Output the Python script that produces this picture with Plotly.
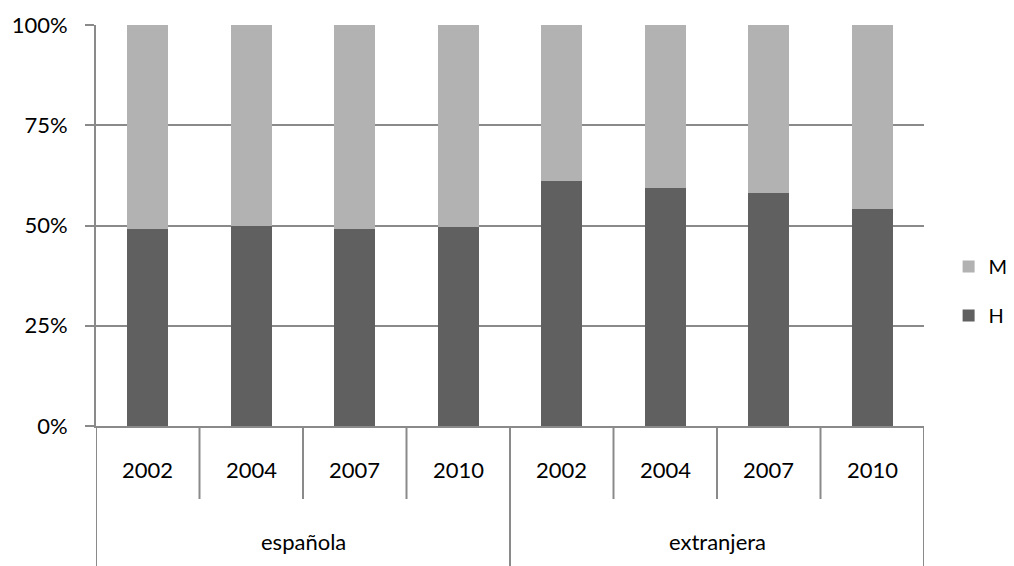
import plotly.graph_objects as go

GROUP_NAMES = ["española", "extranjera"]
YEARS = ["2002", "2004", "2007", "2010"]
H_PCT = [49.2, 50.0, 49.2, 49.6, 61.1, 59.3, 58.1, 54.0]
M_PCT = [50.8, 50.0, 50.8, 50.4, 38.9, 40.7, 41.9, 46.0]

FONT = "Lato, 'Open Sans', sans-serif"
GRID = "#8a8a8a"
# the page body keeps its default 8px margin, so the figure is 8px smaller
FIG_W, FIG_H = 1006, 558

# one unique category per bar: group + year
categories = [f"{g} {y}" for g in GROUP_NAMES for y in YEARS]

fig = go.Figure()
fig.add_trace(go.Bar(
    x=categories, y=H_PCT, name="H", legendgroup="h", legendrank=2,
    marker={"color": "#606060", "line": {"width": 0}},
))
fig.add_trace(go.Bar(
    x=categories, y=M_PCT, name="M", legendgroup="m", legendrank=1,
    marker={"color": "#b2b2b2", "line": {"width": 0}},
))

# two-level category labels and separators drawn under the axis
n_years = len(YEARS)
for gi, group in enumerate(GROUP_NAMES):
    for yi, year in enumerate(YEARS):
        fig.add_annotation(
            x=gi * n_years + yi, y=-0.1097, xref="x", yref="paper", yanchor="middle",
            text=year, showarrow=False, font={"size": 22},
        )
        if yi > 0:
            xpos = gi * n_years + yi - 0.5
            fig.add_shape(
                type="line", xref="x", yref="paper", x0=xpos, x1=xpos, y0=0, y1=-0.182,
                line={"color": GRID, "width": 2},
            )
    fig.add_annotation(
        x=gi * n_years + (n_years - 1) / 2, y=-0.2886, xref="x", yref="paper", yanchor="middle",
        text=group, showarrow=False, font={"size": 22},
    )
for gi in range(len(GROUP_NAMES) + 1):
    xpos = gi * n_years - 0.5
    fig.add_shape(
        type="line", xref="x", yref="paper", x0=xpos, x1=xpos, y0=0, y1=-0.36,
        line={"color": GRID, "width": 2},
    )

fig.update_layout(
    barmode="stack", bargap=0.6,
    width=FIG_W, height=FIG_H,
    margin={"l": 88, "r": 90, "t": 17, "b": 140, "autoexpand": False},
    plot_bgcolor="white", paper_bgcolor="white",
    font={"family": FONT, "size": 22, "color": "#000000"},
    legend={
        "xref": "container", "x": 0.935, "xanchor": "left",
        "yref": "container", "y": 1 - 283 / FIG_H, "yanchor": "middle",
        "traceorder": "grouped", "tracegroupgap": 20,
        "font": {"size": 20},
    },
)
fig.update_xaxes(
    type="category", showline=True, linecolor=GRID, linewidth=2, automargin=False,
    showticklabels=False, ticks="", showgrid=False, range=[-0.5, 7.5],
)
fig.update_yaxes(
    range=[0, 100], dtick=25, ticksuffix="%", automargin=False,
    showgrid=True, gridcolor=GRID, gridwidth=2,
    showline=True, linecolor=GRID, linewidth=2,
    ticks="outside", ticklen=9, tickcolor=GRID, tickwidth=2,
    ticklabelstandoff=13, zeroline=False,
)

fig.write_html("out.html")
